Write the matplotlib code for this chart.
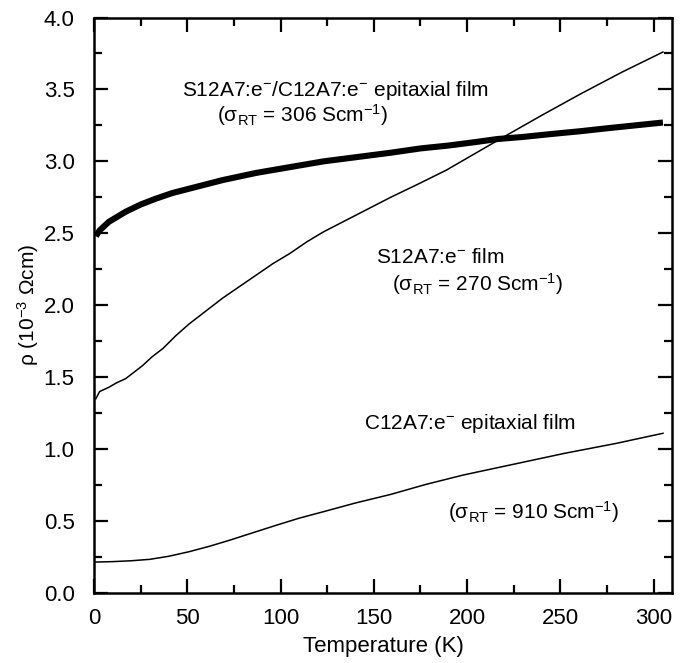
import matplotlib.pyplot as plt
from matplotlib.ticker import MultipleLocator

plt.rcParams['font.family'] = ['Liberation Sans', 'DejaVu Sans']
plt.rcParams['mathtext.fontset'] = 'custom'
plt.rcParams['mathtext.rm'] = 'Liberation Sans'
plt.rcParams['mathtext.it'] = 'Liberation Sans'
plt.rcParams['mathtext.bf'] = 'Liberation Sans'

# S12A7:e-/C12A7:e- epitaxial film (thick curve)
t_bilayer = [1, 3, 8, 17, 25, 33, 42, 51, 60, 69, 78, 87, 96, 105, 114, 123, 132,
             141, 150, 159, 175, 190, 205, 216, 230, 245, 261, 275, 290, 305]
rho_bilayer = [2.48, 2.52, 2.58, 2.65, 2.70, 2.74, 2.78, 2.81, 2.84, 2.87, 2.895,
               2.92, 2.94, 2.96, 2.98, 3.00, 3.015, 3.03, 3.045, 3.06, 3.09,
               3.11, 3.135, 3.155, 3.17, 3.19, 3.21, 3.23, 3.25, 3.27]

# S12A7:e- film
t_s12 = [1, 3, 8, 12, 17, 21, 26, 31, 37, 44, 51, 60, 69, 78, 87, 96, 105, 114,
         123, 132, 141, 153, 159, 175, 189, 205, 221, 240, 261, 283, 305]
rho_s12 = [1.35, 1.40, 1.43, 1.46, 1.49, 1.53, 1.58, 1.64, 1.70, 1.79, 1.87,
           1.96, 2.05, 2.13, 2.21, 2.29, 2.36, 2.44, 2.51, 2.57, 2.63, 2.71,
           2.75, 2.85, 2.94, 3.06, 3.18, 3.32, 3.47, 3.62, 3.76]

# C12A7:e- epitaxial film
t_c12 = [1, 10, 20, 30, 40, 51, 62, 73, 85, 98, 110, 123, 140, 159, 178, 198,
         225, 252, 280, 305]
rho_c12 = [0.215, 0.218, 0.224, 0.234, 0.255, 0.287, 0.325, 0.368, 0.418,
           0.472, 0.52, 0.565, 0.625, 0.685, 0.755, 0.82, 0.895, 0.97, 1.04, 1.11]

fig = plt.figure(figsize=(6.86, 6.63), dpi=100)
ax = fig.add_axes([0.137, 0.1056, 0.843, 0.868])

ax.plot(t_bilayer, rho_bilayer, color='black', lw=4.4, solid_capstyle='butt')
ax.plot(t_s12, rho_s12, color='black', lw=1.1)
ax.plot(t_c12, rho_c12, color='black', lw=1.1)

ax.set_xlim(0, 310)
ax.set_ylim(0, 4.0)
ax.xaxis.set_major_locator(MultipleLocator(50))
ax.xaxis.set_minor_locator(MultipleLocator(25))
ax.yaxis.set_major_locator(MultipleLocator(0.5))
ax.yaxis.set_minor_locator(MultipleLocator(0.25))
ax.yaxis.set_major_formatter(plt.FormatStrFormatter('%.1f'))
ax.tick_params(which='both', direction='in', top=True, right=True,
               labelsize=16, width=1.6)
ax.tick_params(axis='x', which='both', pad=10.5)
ax.tick_params(axis='y', which='both', pad=14)
ax.tick_params(which='major', length=10)
ax.tick_params(which='minor', length=6)
for s in ax.spines.values():
    s.set_linewidth(1.8)

ax.set_xlabel('Temperature (K)', fontsize=16, labelpad=5)
ax.set_ylabel(r'ρ (10$^{-3}$ Ωcm)', fontsize=15, labelpad=2)

fs = 15
ax.text(47, 3.49, r'S12A7:e$^{-}$/C12A7:e$^{-}$ epitaxial film', fontsize=fs, va='center')
ax.text(66, 3.32, r'(σ$_{\rm RT}$ = 306 Scm$^{-1}$)', fontsize=fs, va='center')
ax.text(151, 2.33, r'S12A7:e$^{-}$ film', fontsize=fs, va='center')
ax.text(160, 2.15, r'(σ$_{\rm RT}$ = 270 Scm$^{-1}$)', fontsize=fs, va='center')
ax.text(145, 1.18, r'C12A7:e$^{-}$ epitaxial film', fontsize=fs, va='center')
ax.text(190, 0.56, r'(σ$_{\rm RT}$ = 910 Scm$^{-1}$)', fontsize=fs, va='center')

fig.savefig('out.png', dpi=100)
